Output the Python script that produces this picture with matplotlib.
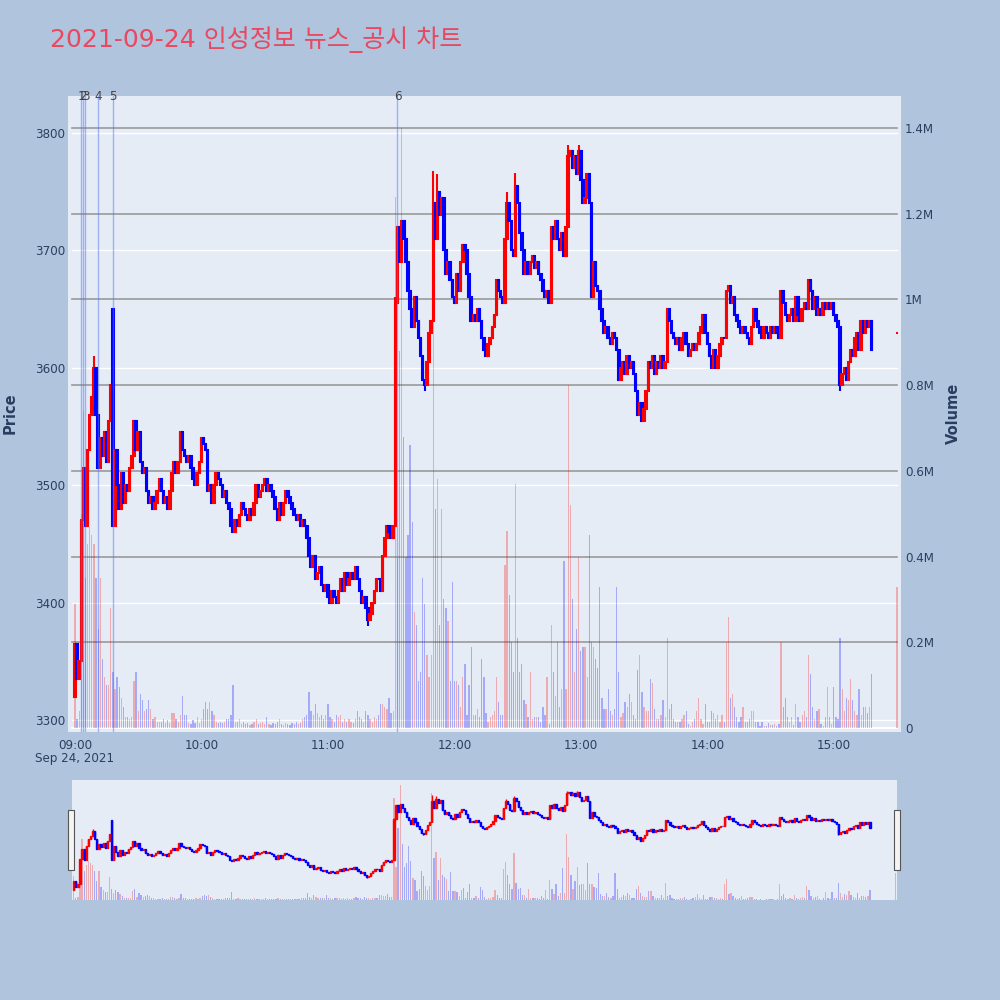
import numpy as np
import matplotlib
matplotlib.use("Agg")
import matplotlib.pyplot as plt
from matplotlib.lines import Line2D
from matplotlib.patches import Rectangle
from matplotlib.transforms import blended_transform_factory

TITLE = "2021-09-24 인성정보 뉴스_공시 차트"
DATE_LABEL = "Sep 24, 2021"
SESSION_START = "09:00"

# one close per minute from 09:00 (KRW)
CLOSE = [
    3365, 3335, 3350, 3470, 3515, 3465, 3530, 3560, 3575, 3600,   # 09:00
    3560, 3515, 3540, 3525, 3545, 3520, 3555, 3585, 3465, 3530,
    3500, 3480, 3510, 3485, 3500, 3495, 3515, 3525, 3555, 3530,
    3545, 3520, 3510, 3515, 3495, 3485, 3490, 3480, 3485, 3495,
    3505, 3495, 3485, 3490, 3480, 3495, 3510, 3520, 3510, 3520,
    3545, 3530, 3525, 3520, 3525, 3515, 3505, 3500, 3510, 3520,
    3540, 3535, 3530, 3495, 3500, 3485, 3500, 3510, 3505, 3500,   # 10:00
    3490, 3495, 3485, 3480, 3465, 3460, 3470, 3465, 3475, 3485,
    3480, 3475, 3470, 3480, 3475, 3485, 3500, 3490, 3495, 3500,
    3505, 3495, 3500, 3495, 3490, 3480, 3470, 3485, 3475, 3485,
    3495, 3490, 3485, 3480, 3475, 3470, 3475, 3465, 3470, 3465,
    3455, 3440, 3430, 3440, 3420, 3425, 3430, 3415, 3410, 3415,
    3405, 3400, 3410, 3405, 3400, 3410, 3420, 3410, 3425, 3415,   # 11:00
    3420, 3425, 3420, 3430, 3420, 3410, 3400, 3405, 3395, 3385,
    3390, 3400, 3410, 3420, 3420, 3410, 3440, 3455, 3465, 3460,
    3455, 3465, 3655, 3720, 3690, 3725, 3710, 3690, 3665, 3650,
    3635, 3660, 3640, 3625, 3610, 3590, 3585, 3605, 3630, 3640,
    3740, 3710, 3750, 3730, 3745, 3700, 3680, 3690, 3675, 3660,
    3655, 3680, 3665, 3690, 3705, 3700, 3680, 3660, 3640, 3645,   # 12:00
    3640, 3650, 3640, 3625, 3615, 3610, 3620, 3625, 3635, 3645,
    3675, 3665, 3660, 3655, 3710, 3740, 3725, 3700, 3695, 3755,
    3740, 3715, 3700, 3680, 3690, 3680, 3690, 3695, 3685, 3690,
    3680, 3675, 3665, 3660, 3665, 3655, 3720, 3710, 3725, 3710,
    3700, 3715, 3695, 3720, 3780, 3785, 3770, 3780, 3765, 3785,
    3760, 3740, 3745, 3765, 3740, 3660, 3690, 3670, 3665, 3650,   # 13:00
    3640, 3630, 3635, 3625, 3620, 3630, 3625, 3615, 3590, 3600,
    3605, 3595, 3610, 3600, 3605, 3595, 3580, 3560, 3570, 3555,
    3565, 3580, 3605, 3600, 3610, 3595, 3605, 3600, 3610, 3600,
    3605, 3650, 3640, 3630, 3625, 3620, 3625, 3615, 3625, 3630,
    3620, 3610, 3615, 3620, 3615, 3620, 3630, 3635, 3645, 3630,
    3620, 3610, 3600, 3615, 3600, 3610, 3620, 3625, 3625, 3665,   # 14:00
    3670, 3655, 3660, 3645, 3640, 3635, 3630, 3635, 3630, 3625,
    3620, 3635, 3650, 3640, 3635, 3630, 3625, 3635, 3630, 3625,
    3635, 3630, 3635, 3630, 3625, 3665, 3655, 3645, 3640, 3645,
    3650, 3640, 3660, 3645, 3640, 3650, 3655, 3650, 3675, 3665,
    3650, 3660, 3645, 3650, 3645, 3655, 3650, 3655, 3650, 3655,
    3645, 3640, 3635, 3585, 3595, 3600, 3590, 3605, 3615, 3610,   # 15:00
    3625, 3630, 3615, 3640, 3630, 3640, 3635, 3640, 3615,
]

# traded volume per minute, thousands of shares
VOLUME_K = [
    290, 20, 40, 500, 740, 350, 430, 470, 450, 430,
    350, 230, 350, 160, 120, 100, 100, 280, 130, 90,
    120, 95, 70, 50, 25, 25, 20, 25, 110, 130,
    40, 80, 65, 40, 45, 65, 45, 20, 25, 15,
    15, 15, 20, 12, 18, 12, 35, 35, 20, 15,
    30, 75, 30, 30, 12, 10, 18, 12, 25, 12,
    20, 45, 60, 45, 60, 40, 30, 15, 12, 15,
    12, 15, 20, 20, 30, 100, 15, 15, 20, 10,
    15, 10, 12, 8, 10, 15, 20, 10, 12, 15,
    10, 25, 10, 8, 12, 10, 15, 20, 10, 8,
    12, 10, 8, 12, 10, 15, 10, 12, 20, 25,
    30, 85, 40, 30, 55, 35, 25, 30, 20, 30,
    55, 25, 20, 15, 30, 25, 30, 15, 20, 15,
    20, 15, 12, 20, 40, 25, 20, 15, 40, 30,
    20, 15, 25, 20, 30, 55, 55, 50, 45, 70,
    35, 40, 1240, 400, 880, 1400, 680, 400, 450, 660,
    480, 270, 240, 110, 130, 350, 290, 170, 120, 170,
    1300, 510, 580, 240, 510, 300, 280, 250, 110, 340,
    110, 110, 100, 50, 120, 150, 30, 100, 190, 30,
    30, 45, 25, 160, 120, 35, 15, 25, 30, 40,
    120, 60, 30, 30, 380, 460, 310, 200, 130, 570,
    210, 130, 150, 65, 55, 25, 130, 20, 25, 25,
    25, 15, 50, 30, 120, 10, 240, 130, 75, 200,
    50, 90, 390, 90, 800, 520, 300, 130, 230, 400,
    180, 190, 190, 120, 450, 200, 190, 160, 140, 330,
    70, 45, 45, 90, 40, 30, 45, 330, 130, 25,
    35, 60, 50, 80, 60, 30, 20, 135, 170, 85,
    50, 40, 40, 115, 105, 45, 20, 20, 30, 65,
    25, 210, 45, 55, 20, 15, 15, 15, 20, 30,
    40, 10, 5, 15, 20, 40, 70, 20, 10, 55,
    15, 15, 40, 35, 20, 30, 15, 30, 15, 200,
    260, 70, 80, 50, 25, 15, 25, 50, 15, 15,
    20, 40, 40, 15, 15, 5, 15, 5, 5, 12,
    8, 8, 10, 5, 10, 200, 50, 70, 25, 15,
    25, 8, 55, 25, 15, 30, 40, 25, 170, 125,
    50, 20, 40, 45, 10, 5, 25, 95, 25, 10,
    95, 25, 20, 210, 90, 40, 70, 65, 115, 65,
    40, 30, 90, 30, 50, 50, 35, 50, 125,
]

# candles whose open / high / low differ from the plain close-to-close path
OPEN_FIX = {0: 3320, 18: 3650}
HIGH_FIX = {9: 3610, 152: 3660, 170: 3768, 172: 3765, 205: 3750,
            209: 3766, 234: 3790, 239: 3790}
LOW_FIX = {139: 3380, 166: 3580, 269: 3555, 363: 3580}

# closing single-price auction
AUCTION_TIME = "15:30"
AUCTION_PRICE = 3630
AUCTION_VOLUME_K = 330

NEWS_TIMES = ["09:03", "09:04", "09:05", "09:11", "09:18", "11:33"]
NEWS_LABELS = ["1", "2", "3", "4", "5", "6"]

HOUR_LABELS = ["09:00", "10:00", "11:00", "12:00", "13:00", "14:00", "15:00"]
PRICE_TICKS = [3300, 3400, 3500, 3600, 3700, 3800]
VOL_TICKS = [0, 0.2e6, 0.4e6, 0.6e6, 0.8e6, 1.0e6, 1.2e6, 1.4e6]
VOL_TICK_LABELS = ["0", "0.2M", "0.4M", "0.6M", "0.8M", "1M", "1.2M", "1.4M"]

_PAPER = "#b0c4de"
_PLOT_BG = "#e5ecf6"
_TEXT = "#2a3f5f"
_UP = "#ff0000"
_DOWN = "#0000ff"
_VOL_GRID = "#9a9a9a"

plt.rcParams["font.family"] = ["DejaVu Sans", "Noto Sans CJK KR"]


def to_min(hhmm):
    h, m = map(int, hhmm.split(":"))
    h0, m0 = map(int, SESSION_START.split(":"))
    return (h - h0) * 60 + (m - m0)


close = np.array(CLOSE, dtype=float)
n = len(close)
assert len(VOLUME_K) == n
x = np.arange(n)
opn = np.concatenate([[close[0]], close[:-1]])
for k, v in OPEN_FIX.items():
    opn[k] = v
high = np.maximum(opn, close)
low = np.minimum(opn, close)
for k, v in HIGH_FIX.items():
    high[k] = v
for k, v in LOW_FIX.items():
    low[k] = v
vol = np.array(VOLUME_K, dtype=float) * 1000
up = close > opn
colors = np.where(up, _UP, _DOWN)

x_auc = to_min(AUCTION_TIME)


def draw_candles(ax, body_w, lw):
    ax.vlines(x, low, high, colors=colors, linewidth=lw, zorder=3)
    ax.bar(x, np.maximum(close, opn) - np.minimum(close, opn), bottom=np.minimum(close, opn),
           width=body_w, color=colors, edgecolor=colors, linewidth=lw, zorder=3)
    ax.hlines(AUCTION_PRICE, x_auc - 0.6, x_auc + 0.6, colors=_UP, linewidth=lw, zorder=3)


def draw_volume(ax, width):
    ax.bar(x, vol, width=width, color=colors, alpha=0.28, linewidth=0, zorder=2)
    ax.bar([x_auc], [AUCTION_VOLUME_K * 1000], width=width, color=_UP, alpha=0.28,
           linewidth=0, zorder=2)


fig = plt.figure(figsize=(10, 10), dpi=100)
fig.patch.set_facecolor(_PAPER)

# ---- main chart: volume axes underneath, price axes on top ----
P_LIM = (3289.8, 3831.5)
V_LIM = (-0.0093e6, 1.4747e6)
X_LIM = (-3.3, 391.9)

axv = fig.add_axes([0.068, 0.268, 0.833, 0.636])
axv.set_facecolor(_PLOT_BG)
axp = axv.twinx()
axp.patch.set_visible(False)
axv.set_xlim(*X_LIM)
axv.set_ylim(*V_LIM)
axp.set_ylim(*P_LIM)

# gridlines (all beneath the traces)
for p in PRICE_TICKS:
    f = (p - P_LIM[0]) / (P_LIM[1] - P_LIM[0])
    axv.add_line(Line2D([0.005, 0.995], [f, f], transform=axv.transAxes,
                        color="white", linewidth=1.0, zorder=0.5))
for v in VOL_TICKS[1:]:
    axv.axhline(v, xmin=0.005, xmax=0.995, color=_VOL_GRID, linewidth=1.2, zorder=0.6)
axv.axhline(0, xmin=0.005, xmax=0.995, color="white", linewidth=1.5, zorder=0.6)

draw_volume(axv, 0.6)
draw_candles(axp, 0.7, 1.5)

# news markers
trans = blended_transform_factory(axp.transData, axp.transAxes)
for t, lab in zip(NEWS_TIMES, NEWS_LABELS):
    xm = to_min(t)
    axp.axvline(xm, color="#5577ee", alpha=0.5, linewidth=1.0, zorder=4)
    axp.text(xm, 1.0, lab, transform=trans, ha="center", va="center",
             fontsize=8.6, color="#444444", zorder=5, clip_on=False)

for a in (axv, axp):
    for s in a.spines.values():
        s.set_visible(False)
    a.tick_params(length=0, labelsize=8.6, labelcolor=_TEXT)

axv.yaxis.tick_right()
axv.set_yticks(VOL_TICKS)
axv.set_yticklabels(VOL_TICK_LABELS)
axv.tick_params(axis="y", pad=3)
axp.yaxis.tick_left()
axp.set_yticks(PRICE_TICKS)
axp.tick_params(axis="y", pad=2)

xt = [to_min(h) for h in HOUR_LABELS]
xl = list(HOUR_LABELS)
xl[0] = xl[0] + "\n" + DATE_LABEL
axv.set_xticks(xt)
axv.set_xticklabels(xl, linespacing=1.05)
axv.tick_params(axis="x", pad=5)

fig.text(0.010, 0.587, "Price", rotation=90, ha="center", va="center",
         fontsize=10.5, fontweight="bold", color=_TEXT)
fig.text(0.953, 0.587, "Volume", rotation=90, ha="center", va="center",
         fontsize=10.5, fontweight="bold", color=_TEXT)

fig.text(0.050, 0.960, TITLE, ha="left", va="center", fontsize=18, color="#e84860")

# ---- range slider ----
axs = fig.add_axes([0.072, 0.10, 0.825, 0.12])
axs.set_facecolor(_PLOT_BG)
axsp = axs.twinx()
axsp.patch.set_visible(False)
axs.set_xlim(-0.8, 390.8)
axs.set_ylim(0, 1.46e6)
axsp.set_ylim(3275, 3840)
draw_volume(axs, 0.6)
draw_candles(axsp, 0.6, 1.0)
for a in (axs, axsp):
    a.set_xticks([])
    a.set_yticks([])
    for s in a.spines.values():
        s.set_visible(False)

for gx in (0.068, 0.894):
    fig.patches.append(Rectangle((gx, 0.13), 0.006, 0.06, transform=fig.transFigure,
                                 facecolor="#f4f4f4", edgecolor="#555555", linewidth=0.8))

fig.savefig("out.png", dpi=100, facecolor=_PAPER)
